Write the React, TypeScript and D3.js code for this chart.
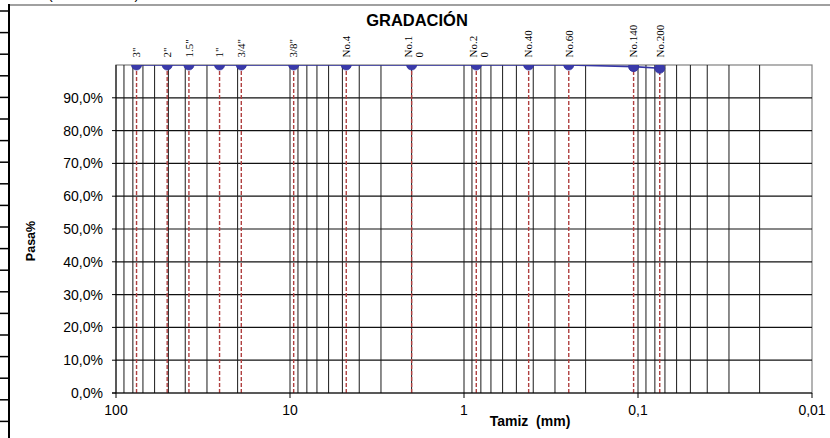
import React from "react";
import * as d3 from "d3";

// sieve data (size in mm, % passing)
const sieveLabels = ['3"', '2"', '1.5"', '1"', '3/4"', '3/8"', "No.4", "No.1|0", "No.2|0", "No.40", "No.60", "No.140", "No.200"];
const sieveSizes = [76.2, 50.8, 38.1, 25.4, 19.05, 9.525, 4.75, 2.0, 0.85, 0.425, 0.25, 0.106, 0.075];
const passing = [100, 100, 100, 100, 100, 100, 100, 100, 100, 100, 100, 99.5, 99.0];
const xTickValues = [100, 10, 1, 0.1, 0.01];
const xTickLabels = ["100", "10", "1", "0,1", "0,01"];
const yTickValues = [0, 10, 20, 30, 40, 50, 60, 70, 80, 90];

const W = 830;
const H = 438;
const plot = { left: 116, right: 812, top: 65, bottom: 393 };
const sans = "Arial, 'Liberation Sans', sans-serif";
const serif = "'Times New Roman', 'Liberation Serif', serif";

export default function App() {
  const x = d3.scaleLog().domain([100, 0.01]).range([plot.left, plot.right]);
  const y = d3.scaleLinear().domain([0, 100]).range([plot.bottom, plot.top]);

  // minor log gridlines 2..9 per decade
  const gridX: number[] = [];
  [0.01, 0.1, 1, 10].forEach(dec => {
    for (let k = 2; k <= 9; k++) gridX.push(dec * k);
  });
  [0.1, 1, 10].forEach(v => gridX.push(v));

  const pts = sieveSizes.map((s, i) => [x(s), y(passing[i])] as [number, number]);
  const line = d3.line()(pts) || "";

  // spreadsheet row stubs on the far left
  const stubs = d3.range(11, H, 21.6);

  return (
    <svg width={W} height={H} style={{ position: "absolute", left: 0, top: 0, background: "#fff" }}>
      <defs>
        <clipPath id="plotClip">
          <rect x={plot.left} y={plot.top} width={plot.right - plot.left} height={plot.bottom - plot.top} />
        </clipPath>
      </defs>
      <rect width={W} height={H} fill="#fff" />

      {/* chart frame */}
      <line x1={9} x2={W} y1={5} y2={5} stroke="#808080" strokeWidth={1.5} />
      <line x1={9} x2={9} y1={4} y2={H} stroke="#000" strokeWidth={2} />
      {stubs.map((s, i) => (
        <line key={i} x1={0} x2={9} y1={s} y2={s} stroke="#000" strokeWidth={1.5} />
      ))}
      <text x={48} y={-1} fontFamily={sans} fontSize={14} fill="#000">(Continuación)</text>

      <text x={417} y={26} textAnchor="middle" fontFamily={sans} fontSize={16.5} fontWeight="bold">GRADACIÓN</text>

      {/* plot border */}
      <rect x={plot.left} y={plot.top} width={plot.right - plot.left} height={plot.bottom - plot.top}
        fill="none" stroke="#808080" strokeWidth={1.2} />

      {/* gridlines */}
      {yTickValues.filter(v => v > 0).map(v => (
        <line key={"gy" + v} x1={plot.left} x2={plot.right} y1={y(v)} y2={y(v)} stroke="#111" strokeWidth={1.2} />
      ))}
      {gridX.map((v, i) => (
        <line key={"gx" + i} x1={x(v)} x2={x(v)} y1={plot.top} y2={plot.bottom} stroke="#1a1a1a" strokeWidth={1} />
      ))}

      {/* sieve dashed lines */}
      {sieveSizes.map((s, i) => (
        <line key={"sd" + i} x1={x(s)} x2={x(s)} y1={plot.top} y2={plot.bottom}
          stroke="#b04040" strokeWidth={1.4} strokeDasharray="4,2" />
      ))}

      {/* axes */}
      <line x1={plot.left} x2={plot.left} y1={plot.top} y2={plot.bottom} stroke="#000" strokeWidth={1} />
      <line x1={plot.left - 4} x2={plot.right} y1={plot.bottom} y2={plot.bottom} stroke="#000" strokeWidth={1.2} />
      {yTickValues.map(v => (
        <g key={"yt" + v}>
          <line x1={plot.left - 4} x2={plot.left} y1={y(v)} y2={y(v)} stroke="#000" />
          <text x={103} y={y(v)} dy="0.36em" textAnchor="end" fontFamily={sans} fontSize={14}>
            {v.toFixed(1).replace(".", ",") + "%"}
          </text>
        </g>
      ))}
      {xTickValues.map((v, i) => (
        <g key={"xt" + v}>
          <line x1={x(v)} x2={x(v)} y1={plot.bottom} y2={plot.bottom + 5} stroke="#000" />
          <text x={x(v)} y={415} textAnchor="middle" fontFamily={sans} fontSize={14}>{xTickLabels[i]}</text>
        </g>
      ))}

      <text x={530} y={426} textAnchor="middle" fontFamily={sans} fontSize={14} fontWeight="bold"
        style={{ whiteSpace: "pre" }}>{"Tamiz  (mm)"}</text>
      <text transform="translate(35,241) rotate(-90)" textAnchor="middle" fontFamily={sans} fontSize={12.5} fontWeight="bold">Pasa%</text>

      {/* data */}
      <g clipPath="url(#plotClip)">
        <path d={line} fill="none" stroke="#3535a5" strokeWidth={1.6} />
        {pts.map((p, i) => (
          <circle key={"pt" + i} cx={p[0]} cy={p[1]} r={5} fill="#3a3aaa" stroke="#30309a" strokeWidth={0.8} />
        ))}
      </g>

      {/* sieve labels */}
      {sieveSizes.map((s, i) => {
        const lines = sieveLabels[i].split("|");
        const off = lines.length > 1 ? -3 : 0;
        return lines.map((ln, j) => (
          <text key={"sl" + i + "_" + j}
            transform={`translate(${x(s) + off + j * 11 + 3.8},57.5) rotate(-90)`}
            fontFamily={serif} fontSize={11} fill="#000">{ln}</text>
        ));
      })}
    </svg>
  );
}
